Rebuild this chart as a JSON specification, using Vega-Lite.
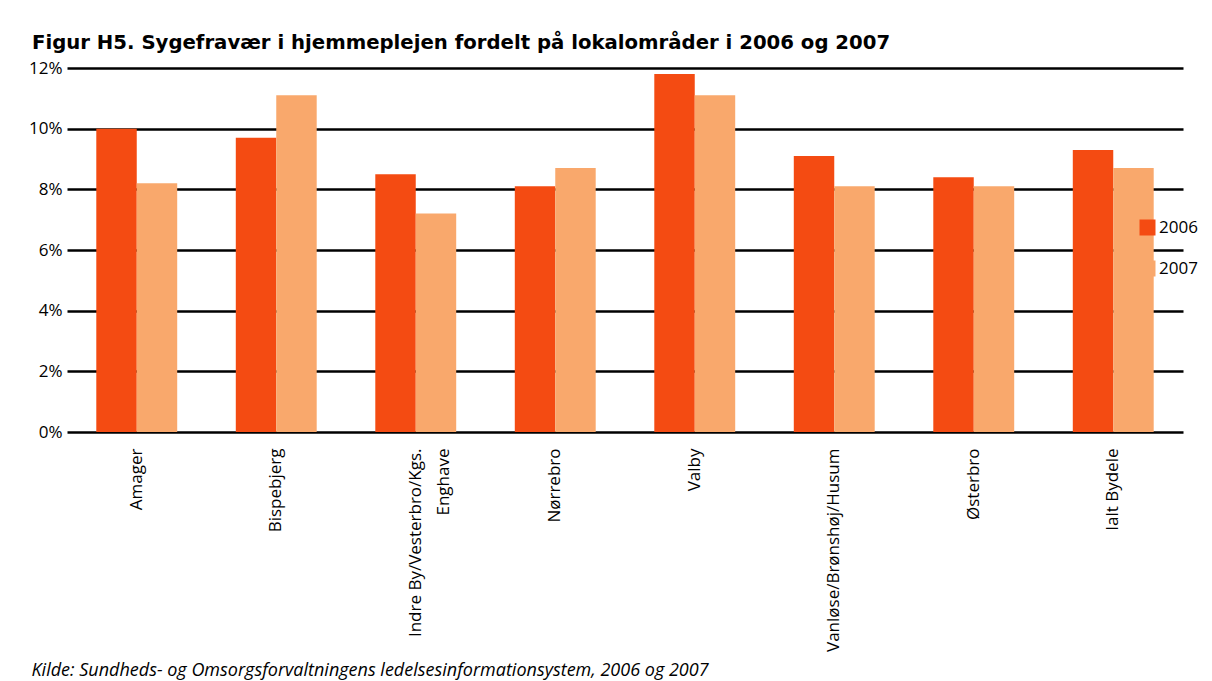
{
  "$schema": "https://vega.github.io/schema/vega-lite/v6.json",
  "width": 1116,
  "height": 364,
  "autosize": {"type": "none"},
  "padding": {"left": 67, "top": 68, "right": 29, "bottom": 249},
  "background": "white",
  "title": {
    "text": "Figur H5. Sygefravær i hjemmeplejen fordelt på lokalområder i 2006 og 2007",
    "anchor": "start",
    "frame": "group",
    "dx": -35,
    "offset": 6,
    "font": "DejaVu Sans",
    "fontSize": 19.7,
    "fontWeight": "bold",
    "color": "black"
  },
  "data": {
    "values": [
      {"area": "Amager", "year": "2006", "value": 10.0},
      {"area": "Amager", "year": "2007", "value": 8.2},
      {"area": "Bispebjerg", "year": "2006", "value": 9.7},
      {"area": "Bispebjerg", "year": "2007", "value": 11.1},
      {"area": "Indre By/Vesterbro/Kgs. Enghave", "year": "2006", "value": 8.5},
      {"area": "Indre By/Vesterbro/Kgs. Enghave", "year": "2007", "value": 7.2},
      {"area": "Nørrebro", "year": "2006", "value": 8.1},
      {"area": "Nørrebro", "year": "2007", "value": 8.7},
      {"area": "Valby", "year": "2006", "value": 11.8},
      {"area": "Valby", "year": "2007", "value": 11.1},
      {"area": "Vanløse/Brønshøj/Husum", "year": "2006", "value": 9.1},
      {"area": "Vanløse/Brønshøj/Husum", "year": "2007", "value": 8.1},
      {"area": "Østerbro", "year": "2006", "value": 8.4},
      {"area": "Østerbro", "year": "2007", "value": 8.1},
      {"area": "Ialt Bydele", "year": "2006", "value": 9.3},
      {"area": "Ialt Bydele", "year": "2007", "value": 8.7}
    ]
  },
  "mark": {"type": "bar"},
  "encoding": {
    "x": {
      "field": "area",
      "type": "nominal",
      "sort": null,
      "scale": {"paddingInner": 0.42, "paddingOuter": 0.21},
      "axis": {
        "title": "Kilde: Sundheds- og Omsorgsforvaltningens ledelsesinformationsystem, 2006 og 2007",
        "titleFont": "Open Sans",
        "titleFontStyle": "italic",
        "titleFontWeight": "normal",
        "titleFontSize": 18,
        "titleColor": "black",
        "titleAnchor": "start",
        "titleAlign": "left",
        "titleX": -36,
        "titleY": 243,
        "titleBaseline": "alphabetic",
        "labelAngle": -90,
        "labelFont": "Open Sans",
        "labelFontSize": 17,
        "labelPadding": 16,
        "labelLimit": 400,
        "labelLineHeight": 28,
        "labelColor": "black",
        "ticks": false,
        "domain": false,
        "labelExpr": "datum.value == 'Indre By/Vesterbro/Kgs. Enghave' ? ['Indre By/Vesterbro/Kgs.', 'Enghave'] : datum.value"
      }
    },
    "xOffset": {"field": "year", "type": "nominal"},
    "y": {
      "field": "value",
      "type": "quantitative",
      "scale": {"domain": [0, 12]},
      "axis": {
        "title": null,
        "values": [0, 2, 4, 6, 8, 10, 12],
        "labelExpr": "datum.value + '%'",
        "gridColor": "black",
        "gridWidth": 2.5,
        "gridOpacity": 1,
        "domain": false,
        "ticks": false,
        "labelFont": "Open Sans",
        "labelFontSize": 17,
        "labelPadding": 5,
        "labelColor": "black"
      }
    },
    "color": {
      "field": "year",
      "type": "nominal",
      "scale": {"domain": ["2006", "2007"], "range": ["#F44B12", "#F9A86C"]},
      "legend": {
        "title": null,
        "orient": "none",
        "legendX": 1072,
        "legendY": 151,
        "symbolType": "square",
        "symbolSize": 256,
        "symbolStrokeWidth": 0,
        "symbolOpacity": 1,
        "labelFont": "Open Sans",
        "labelFontSize": 17,
        "labelOffset": 3,
        "rowPadding": 23,
        "labelColor": "black"
      }
    }
  },
  "config": {"view": {"stroke": null}, "font": "Open Sans"}
}
